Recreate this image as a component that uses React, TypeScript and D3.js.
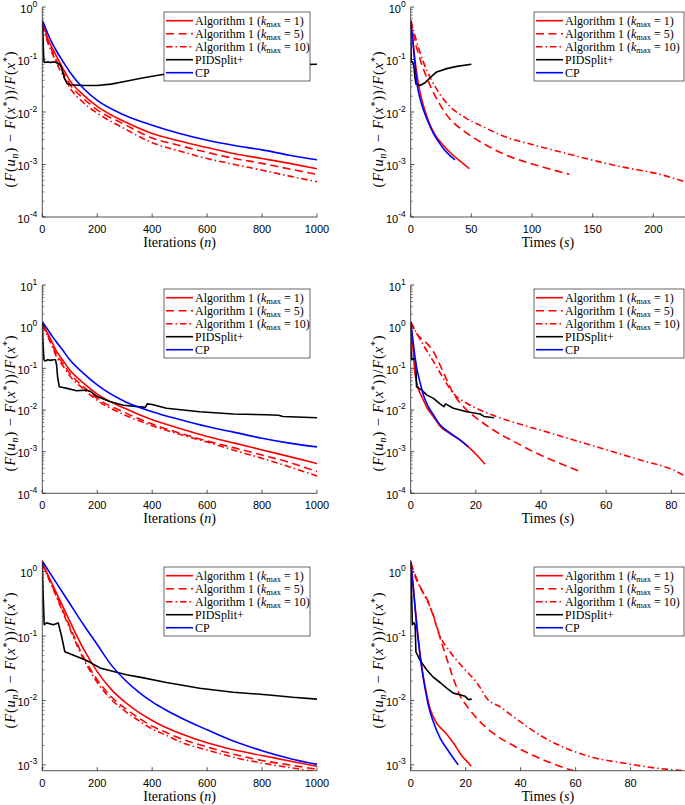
import React from 'react';
import * as d3 from 'd3';

type Pt = [number, number];

// ---------- tick labels ----------
const xTicksIter = [0, 200, 400, 600, 800, 1000];
const xTicksTimeA = [0, 50, 100, 150, 200];
const xTicksTimeB = [0, 20, 40, 60, 80];
const xTicksTimeC = [0, 20, 40, 60, 80];
const yExpsA = [0, -1, -2, -3, -4];
const yExpsB = [1, 0, -1, -2, -3, -4];
const yExpsC = [0, -1, -2, -3];
const kmaxValues = [1, 5, 10];
const otherMethods = ['PIDSplit+', 'CP'];

// ---------- Row 1 : iterations ----------
const iterK1A: Pt[] = [[0,0.5],[10,0.36],[20,0.25],[35,0.17],[50,0.12],[75,0.068],[100,0.04],[150,0.021],[200,0.0128],[300,0.0065],[400,0.0039],[500,0.0028],[600,0.0021],[700,0.0016],[800,0.0013],[900,0.00105],[1000,0.00083]];
const iterK5A: Pt[] = [[0,0.48],[10,0.33],[20,0.23],[35,0.15],[50,0.1],[75,0.058],[100,0.034],[150,0.018],[200,0.011],[300,0.0058],[400,0.0032],[500,0.0023],[600,0.0017],[700,0.0013],[800,0.00105],[900,0.00082],[1000,0.00065]];
const iterK10A: Pt[] = [[0,0.45],[10,0.3],[20,0.21],[35,0.135],[50,0.09],[75,0.05],[100,0.029],[150,0.015],[200,0.0095],[300,0.0048],[400,0.0026],[500,0.0018],[600,0.0013],[700,0.001],[800,0.00078],[900,0.0006],[1000,0.00047]];
const iterPIDA: Pt[] = [[0,0.5],[2,0.35],[4,0.15],[6,0.09],[10,0.088],[20,0.09],[30,0.088],[45,0.09],[55,0.085],[65,0.08],[72,0.065],[80,0.045],[90,0.035],[100,0.033],[150,0.032],[200,0.032],[250,0.034],[300,0.038],[350,0.043],[400,0.048],[450,0.053],[500,0.057],[600,0.064],[700,0.07],[800,0.075],[900,0.079],[1000,0.081]];
const iterCPA: Pt[] = [[0,0.56],[10,0.42],[20,0.31],[35,0.21],[50,0.15],[75,0.092],[100,0.058],[150,0.028],[200,0.0166],[300,0.0087],[400,0.0056],[500,0.0039],[600,0.0029],[700,0.0023],[800,0.0019],[900,0.0015],[1000,0.00123]];

// ---------- Row 1 : times ----------
const timeK1A: Pt[] = [[0,0.5],[1,0.33],[2.2,0.19],[3.5,0.1],[5,0.055],[6.5,0.033],[8,0.022],[10.4,0.0135],[14.6,0.0068],[20,0.0037],[27,0.0023],[35,0.0015],[42,0.0011],[48.4,0.00083]];
const timeK5A: Pt[] = [[0,0.55],[1,0.45],[2.7,0.27],[6.3,0.13],[10.4,0.067],[16,0.032],[24,0.014],[32,0.0075],[43,0.0045],[60,0.0025],[79,0.0015],[106.6,0.00093],[130.8,0.00065]];
const timeK10A: Pt[] = [[0,0.55],[1,0.45],[2.7,0.33],[6.3,0.17],[10.4,0.09],[17.3,0.04],[24,0.022],[32,0.013],[43,0.0083],[60,0.0052],[79,0.0033],[100,0.0024],[125,0.0017],[150.5,0.0012],[175,0.00089],[203,0.00067],[226,0.00047],[230,0.00044]];
const timePIDA: Pt[] = [[0,0.5],[0.2,0.2],[0.4,0.09],[1.6,0.09],[2.7,0.072],[3.5,0.045],[4.4,0.034],[7.7,0.032],[11.8,0.036],[16,0.045],[21.4,0.058],[29.7,0.067],[38,0.074],[50,0.081]];
const timeCPA: Pt[] = [[0,0.56],[1,0.33],[2.2,0.17],[3.3,0.09],[4.4,0.05],[5.4,0.032],[7,0.021],[9,0.014],[13.2,0.0075],[18.7,0.0039],[24,0.0025],[29.7,0.0017],[36.5,0.00123]];

// ---------- Row 2 : iterations ----------
const iterK1B: Pt[] = [[0,1.2],[10,0.9],[20,0.68],[35,0.43],[50,0.27],[75,0.155],[100,0.091],[150,0.044],[200,0.024],[300,0.011],[400,0.0058],[500,0.0036],[600,0.0023],[700,0.0016],[800,0.0011],[900,0.00076],[1000,0.00052]];
const iterK5B: Pt[] = [[0,1.15],[10,0.85],[20,0.62],[35,0.38],[50,0.23],[75,0.13],[100,0.076],[150,0.036],[200,0.019],[300,0.0087],[400,0.0046],[500,0.0028],[600,0.0018],[700,0.00123],[800,0.00083],[900,0.00055],[1000,0.00033]];
const iterK10B: Pt[] = [[0,1.1],[10,0.8],[20,0.58],[35,0.35],[50,0.2],[75,0.115],[100,0.066],[150,0.032],[200,0.017],[300,0.0076],[400,0.0042],[500,0.0026],[600,0.0017],[700,0.00107],[800,0.00069],[900,0.00043],[1000,0.00026]];
const iterPIDB: Pt[] = [[0,1.2],[2,0.5],[4,0.27],[6,0.16],[10,0.15],[20,0.16],[30,0.155],[40,0.16],[48,0.16],[52,0.12],[56,0.06],[62,0.036],[90,0.033],[125,0.029],[160,0.03],[175,0.028],[200,0.021],[245,0.016],[295,0.013],[367,0.0117],[375,0.0115],[382,0.014],[400,0.0135],[452,0.011],[573,0.0091],[695,0.008],[815,0.0077],[860,0.0075],[876,0.007],[1000,0.0065]];
const iterCPB: Pt[] = [[0,1.32],[10,1.05],[20,0.85],[35,0.6],[50,0.44],[75,0.27],[100,0.16],[150,0.076],[200,0.04],[300,0.016],[400,0.0091],[500,0.0059],[600,0.004],[700,0.0029],[800,0.0021],[900,0.0016],[1000,0.0013]];

// ---------- Row 2 : times ----------
const timeK1B: Pt[] = [[0,1.2],[0.6,0.4],[1.2,0.091],[2,0.04],[3.4,0.021],[5.1,0.011],[7,0.0069],[9,0.0041],[12.1,0.0027],[15.2,0.0019],[17.7,0.0013],[20.3,0.00083],[22.8,0.0005]];
const timeK5B: Pt[] = [[0,1.3],[1.8,0.69],[4.4,0.44],[7,0.25],[9,0.12],[11.1,0.052],[13.1,0.025],[16.2,0.012],[20.3,0.0063],[25.4,0.0033],[32.6,0.0016],[39.8,0.00083],[45.9,0.00052],[52,0.00033]];
const timeK10B: Pt[] = [[0,1.3],[1.3,0.83],[3.9,0.36],[7,0.145],[10,0.058],[13.1,0.025],[17.2,0.0145],[21.3,0.01],[26.4,0.0069],[32.6,0.0048],[39.8,0.0033],[50,0.0019],[60.2,0.0011],[70.5,0.00063],[80.7,0.00036],[84.3,0.00026],[86,0.00023]];
const timePIDB: Pt[] = [[0,1.3],[0.1,0.27],[0.3,0.16],[0.8,0.17],[1.4,0.17],[1.6,0.1],[1.8,0.036],[3.4,0.03],[4.9,0.023],[7,0.019],[9,0.014],[10.2,0.012],[10.7,0.014],[13.1,0.011],[17.2,0.0091],[21.3,0.008],[22.5,0.007],[25.6,0.0065]];
const timeCPB: Pt[] = [[0,1.32],[0.8,0.4],[1.6,0.13],[2.7,0.052],[3.9,0.023],[5.4,0.012],[7,0.0076],[9,0.0044],[12.1,0.0028],[15.2,0.0019],[17.7,0.0013]];

// ---------- Row 3 : iterations ----------
const iterK1C: Pt[] = [[0,1.35],[50,0.48],[100,0.17],[150,0.063],[200,0.028],[250,0.015],[300,0.0095],[350,0.0066],[400,0.0049],[450,0.0038],[500,0.0031],[600,0.0022],[700,0.0017],[800,0.0014],[900,0.00115],[1000,0.00095]];
const iterK5C: Pt[] = [[0,1.35],[50,0.44],[100,0.14],[150,0.047],[200,0.021],[250,0.0115],[300,0.0076],[350,0.0054],[400,0.004],[450,0.0032],[500,0.0026],[600,0.0019],[700,0.00145],[800,0.00117],[900,0.001],[1000,0.00085]];
const iterK10C: Pt[] = [[0,1.32],[50,0.42],[100,0.13],[150,0.044],[200,0.019],[250,0.0105],[300,0.0069],[350,0.0049],[400,0.0036],[450,0.0029],[500,0.0023],[600,0.0017],[700,0.0013],[800,0.00107],[900,0.00091],[1000,0.00078]];
const iterPIDC: Pt[] = [[0,1.4],[2,0.6],[4,0.34],[7,0.15],[16,0.16],[40,0.15],[58,0.16],[70,0.1],[82,0.057],[125,0.048],[160,0.042],[210,0.032],[306,0.025],[355,0.023],[452,0.019],[573,0.0155],[695,0.0134],[815,0.0123],[912,0.0112],[1000,0.0105]];
const iterCPC: Pt[] = [[0,1.45],[50,0.68],[100,0.32],[150,0.15],[200,0.074],[250,0.036],[300,0.021],[350,0.0136],[400,0.0095],[450,0.0071],[500,0.0055],[600,0.0035],[700,0.0023],[800,0.00166],[900,0.00126],[1000,0.00102]];

// ---------- Row 3 : times ----------
const timeK1C: Pt[] = [[0,1.35],[1.2,0.43],[2.4,0.13],[3.6,0.045],[5.2,0.017],[7,0.0076],[9.5,0.0044],[11.9,0.0034],[13.1,0.003],[15.5,0.0022],[18.5,0.0014],[21.6,0.001],[22,0.00095]];
const timeK5C: Pt[] = [[0,1.4],[1.6,0.89],[4,0.52],[6.4,0.34],[8.8,0.17],[10.7,0.093],[13.1,0.045],[15.5,0.022],[17.9,0.012],[21,0.0076],[25.2,0.0047],[30,0.0031],[37.3,0.002],[44.6,0.0014],[53,0.001],[59,0.00082],[61,0.0008]];
const timeK10C: Pt[] = [[0,1.4],[1.6,0.84],[4.6,0.46],[7.6,0.25],[10.7,0.1],[14.3,0.057],[19.2,0.032],[24,0.019],[28.8,0.0096],[30.5,0.0088],[32.5,0.008],[34.9,0.0067],[39.8,0.0047],[47,0.0029],[56.7,0.0018],[66.4,0.0013],[77.3,0.00107],[89.5,0.00089],[99.8,0.00081]];
const timePIDC: Pt[] = [[0,1.4],[0.4,0.34],[0.6,0.15],[1.2,0.16],[1.6,0.15],[1.9,0.057],[3.4,0.042],[5.8,0.03],[8.2,0.023],[10.7,0.019],[13.1,0.0155],[15.5,0.013],[17.9,0.0123],[19.8,0.0116],[21,0.0103],[22.2,0.0105]];
const timeCPC: Pt[] = [[0,1.45],[1,0.55],[1.9,0.19],[2.8,0.082],[4,0.032],[5.2,0.0155],[6.4,0.0085],[8.2,0.0047],[10.7,0.0026],[13.1,0.0018],[17.3,0.001]];

// ---------- styles ----------
const styles = [
  { color: '#ff0000', dash: undefined as string | undefined, smooth: true },
  { color: '#ff0000', dash: '8,4.5', smooth: true },
  { color: '#ff0000', dash: '6.5,3,1.5,3', smooth: true },
  { color: '#000000', dash: undefined, smooth: false },
  { color: '#0000ff', dash: undefined, smooth: true },
];

const SERIF = "'Liberation Serif', 'Times New Roman', serif";
const SANS = "'Liberation Sans', Arial, Helvetica, sans-serif";
const AXIS = '#262626';

interface PanelCfg {
  id: string;
  left: number; right: number; top: number; bottom: number;
  xDomain: [number, number];
  yDomain: [number, number];
  xTicks: number[];
  yExps: number[];
  series: Pt[][];
  legend: { x: number; y: number; w: number; h: number };
  ylab: { x: number; y: number };
  xlabel: 'iter' | 'time';
}

const panels: PanelCfg[] = [
  { id: 'a1', left: 42.3, right: 317, top: 7, bottom: 217, xDomain: [0, 1000], yDomain: [1e-4, 1], xTicks: xTicksIter, yExps: yExpsA,
    series: [iterK1A, iterK5A, iterK10A, iterPIDA, iterCPA], legend: { x: 164, y: 12, w: 146, h: 69 }, ylab: { x: 15, y: 119 }, xlabel: 'iter' },
  { id: 'a2', left: 410.7, right: 685, top: 7, bottom: 217, xDomain: [0, 226.1], yDomain: [1e-4, 1], xTicks: xTicksTimeA, yExps: yExpsA,
    series: [timeK1A, timeK5A, timeK10A, timePIDA, timeCPA], legend: { x: 534, y: 12, w: 150, h: 69 }, ylab: { x: 383, y: 119 }, xlabel: 'time' },
  { id: 'b1', left: 42.3, right: 317, top: 285, bottom: 493.3, xDomain: [0, 1000], yDomain: [1e-4, 10], xTicks: xTicksIter, yExps: yExpsB,
    series: [iterK1B, iterK5B, iterK10B, iterPIDB, iterCPB], legend: { x: 164, y: 289, w: 146, h: 69 }, ylab: { x: 15, y: 403 }, xlabel: 'iter' },
  { id: 'b2', left: 410.7, right: 685, top: 285, bottom: 493.3, xDomain: [0, 84.2], yDomain: [1e-4, 10], xTicks: xTicksTimeB, yExps: yExpsB,
    series: [timeK1B, timeK5B, timeK10B, timePIDB, timeCPB], legend: { x: 534, y: 289, w: 150, h: 69 }, ylab: { x: 383, y: 403 }, xlabel: 'time' },
  { id: 'c1', left: 42.3, right: 317, top: 560, bottom: 770.7, xDomain: [0, 1000], yDomain: [Math.pow(10, -3.09), Math.pow(10, 0.18)], xTicks: xTicksIter, yExps: yExpsC,
    series: [iterK1C, iterK5C, iterK10C, iterPIDC, iterCPC], legend: { x: 164, y: 567, w: 146, h: 69 }, ylab: { x: 15, y: 660 }, xlabel: 'iter' },
  { id: 'c2', left: 410.7, right: 685, top: 560, bottom: 770.7, xDomain: [0, 99.8], yDomain: [Math.pow(10, -3.09), Math.pow(10, 0.18)], xTicks: xTicksTimeC, yExps: yExpsC,
    series: [timeK1C, timeK5C, timeK10C, timePIDC, timeCPC], legend: { x: 534, y: 567, w: 150, h: 69 }, ylab: { x: 383, y: 660 }, xlabel: 'time' },
];

function YLabel({ x, y }: { x: number; y: number }) {
  return (
    <text transform={`translate(${x},${y}) rotate(-90)`} textAnchor="middle" fontFamily={SERIF} fontSize={14.5}
      letterSpacing={0.8} fill="#000">
      (<tspan fontStyle="italic">F</tspan>(<tspan fontStyle="italic">u</tspan>
      <tspan fontStyle="italic" fontSize={10} dy={3}>n</tspan>
      <tspan dy={-3}>) − </tspan><tspan fontStyle="italic">F</tspan>(<tspan fontStyle="italic">x</tspan>
      <tspan fontSize={10} dy={-5.5}>*</tspan><tspan dy={5.5}>))/</tspan><tspan fontStyle="italic">F</tspan>(<tspan fontStyle="italic">x</tspan>
      <tspan fontSize={10} dy={-5.5}>*</tspan><tspan dy={5.5}>)</tspan>
    </text>
  );
}

function LegendLabel({ i }: { i: number }) {
  if (i < 3) {
    return (
      <>
        Algorithm 1 (<tspan fontStyle="italic">k</tspan>
        <tspan fontSize={8.5} dy={2.5}>max</tspan>
        <tspan dy={-2.5}> = {kmaxValues[i]})</tspan>
      </>
    );
  }
  return <>{otherMethods[i - 3]}</>;
}

function Panel({ p }: { p: PanelCfg }) {
  const x = d3.scaleLinear().domain(p.xDomain).range([p.left, p.right]);
  const y = d3.scaleLog().domain(p.yDomain).range([p.bottom, p.top]);
  const lineSmooth = d3.line<Pt>().x(d => x(d[0])).y(d => y(d[1])).curve(d3.curveMonotoneX);
  const lineLinear = d3.line<Pt>().x(d => x(d[0])).y(d => y(d[1]));
  const minor: number[] = [];
  const lo = Math.floor(Math.log10(p.yDomain[0]));
  const hi = Math.ceil(Math.log10(p.yDomain[1]));
  for (let e = lo; e < hi; e++) {
    for (let m = 2; m <= 9; m++) {
      const v = m * Math.pow(10, e);
      if (v > p.yDomain[0] && v < p.yDomain[1]) minor.push(v);
    }
  }
  const clipId = `clip-${p.id}`;
  return (
    <g>
      <defs>
        <clipPath id={clipId}>
          <rect x={p.left} y={p.top - 2} width={p.right - p.left + 2} height={p.bottom - p.top + 2} />
        </clipPath>
      </defs>
      <g clipPath={`url(#${clipId})`}>
        {p.series.map((s, i) => (
          <path key={i} d={(styles[i].smooth ? lineSmooth(s) : lineLinear(s)) || ''} fill="none" stroke={styles[i].color} strokeWidth={1.6}
            strokeDasharray={styles[i].dash} strokeLinejoin="round" />
        ))}
      </g>
      <line x1={p.left} x2={p.left} y1={p.top} y2={p.bottom} stroke={AXIS} strokeWidth={0.8} />
      <line x1={p.left} x2={p.right} y1={p.bottom} y2={p.bottom} stroke={AXIS} strokeWidth={0.8} />
      {p.xTicks.map(t => (
        <g key={`xt${t}`}>
          <line x1={x(t)} x2={x(t)} y1={p.bottom} y2={p.bottom - 3.5} stroke={AXIS} strokeWidth={0.8} />
          <text x={x(t)} y={p.bottom + 15.8} textAnchor="middle" fontFamily={SANS} fontSize={11} fill="#000">{t}</text>
        </g>
      ))}
      {p.yExps.map(e => {
        const yy = y(Math.pow(10, e));
        return (
          <g key={`yt${e}`}>
            <line x1={p.left} x2={p.left + 3.5} y1={yy} y2={yy} stroke={AXIS} strokeWidth={0.8} />
            <text x={p.left - 5} y={yy + 5.5} textAnchor="end" fontFamily={SANS} fontSize={11} fill="#000">
              10<tspan fontSize={8.5} dy={-6}>{e < 0 ? `-${-e}` : `${e}`}</tspan>
            </text>
          </g>
        );
      })}
      {minor.map((v, i) => (
        <line key={`mt${i}`} x1={p.left} x2={p.left + 2} y1={y(v)} y2={y(v)} stroke={AXIS} strokeWidth={0.6} />
      ))}
      <YLabel x={p.ylab.x} y={p.ylab.y} />
      <text x={(p.left + p.right) / 2} y={p.bottom + 30} textAnchor="middle" fontFamily={SERIF} fontSize={14} fill="#000">
        {p.xlabel === 'iter' ? <>Iterations (<tspan fontStyle="italic">n</tspan>)</> : <>Times (<tspan fontStyle="italic">s</tspan>)</>}
      </text>
      <rect x={p.legend.x} y={p.legend.y} width={p.legend.w} height={p.legend.h} fill="#fff" stroke={AXIS} strokeWidth={0.7} />
      {styles.map((st, i) => {
        const ry = p.legend.y + 8.7 + i * 13;
        return (
          <g key={`lg${i}`}>
            <line x1={p.legend.x + 2} x2={p.legend.x + 29} y1={ry} y2={ry} stroke={st.color} strokeWidth={1.6} strokeDasharray={st.dash} />
            <text x={p.legend.x + 31} y={ry + 4} fontFamily={SERIF} fontSize={12} fill="#000">
              <LegendLabel i={i} />
            </text>
          </g>
        );
      })}
    </g>
  );
}

export default function App() {
  return (
    <svg width={685} height={805} viewBox="0 0 685 805" style={{ position: 'absolute', left: 0, top: 0, background: '#fff' }}
      xmlns="http://www.w3.org/2000/svg">
      <rect x={0} y={0} width={685} height={805} fill="#fff" />
      {panels.map(p => <Panel key={p.id} p={p} />)}
    </svg>
  );
}
